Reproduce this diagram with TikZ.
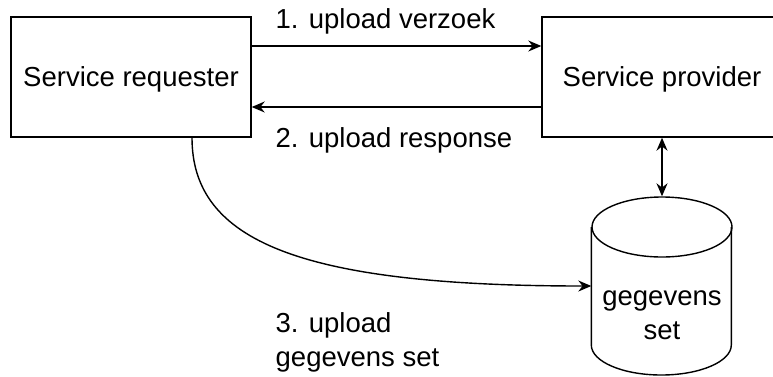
\documentclass[tikz,border=0pt]{standalone}
\usepackage{fontspec}
\setmainfont{Liberation Sans}
\usetikzlibrary{arrows.meta}
\begin{document}
\begin{tikzpicture}[x=1pt, y=-1pt, line width=1.4pt,
    every node/.style={font=\fontsize{27.5}{34}\selectfont},
    actor/.style={draw, minimum width=240pt, minimum height=120pt, text depth=0pt},
    msg/.style={anchor=base west, inner sep=0pt},
    arr/.style={-{Stealth[length=13pt, width=11pt]}}]
    \useasboundingbox (0,0) rectangle (773,376) ;
    \node [actor] (req) at (131,77) {Service requester} ;
    \node [actor] (prov) at (662,77) {Service provider} ;
    \node [minimum width=140pt, minimum height=178pt, inner sep=0pt] (db) at (662,286) {} ;
    \draw (db.west) ++(0,-59) -- ++(0,118) arc [start angle=180, end angle=360, x radius=70pt, y radius=30pt] -- ++(0,-118) ;
    \draw (662,227) ellipse [x radius=70pt, y radius=30pt] ;
    \node [msg, align=center, anchor=base] (dbtext) at (662,339) {gegevens\\set} ;
    \draw [arr] ([yshift=31pt]req.east) -- ([yshift=31pt]prov.west) ;
    \node [msg] (m1) at (275,28) {1. upload verzoek} ;
    \draw [arr] ([yshift=-30pt]prov.west) -- ([yshift=-30pt]req.east) ;
    \node [msg] (m2) at (275,147) {2. upload response} ;
    \draw [{Stealth[length=13pt, width=11pt]}-{Stealth[length=13pt, width=11pt]}] (prov.south) -- (db.north) ;
    \draw [arr] ([xshift=61pt]req.south) .. controls +(0,103) and +(-292,0) .. (db.west) ;
    \node [msg, align=left] (m3) at (275,366) {3. upload\\gegevens set} ;
\end{tikzpicture}
\end{document}
